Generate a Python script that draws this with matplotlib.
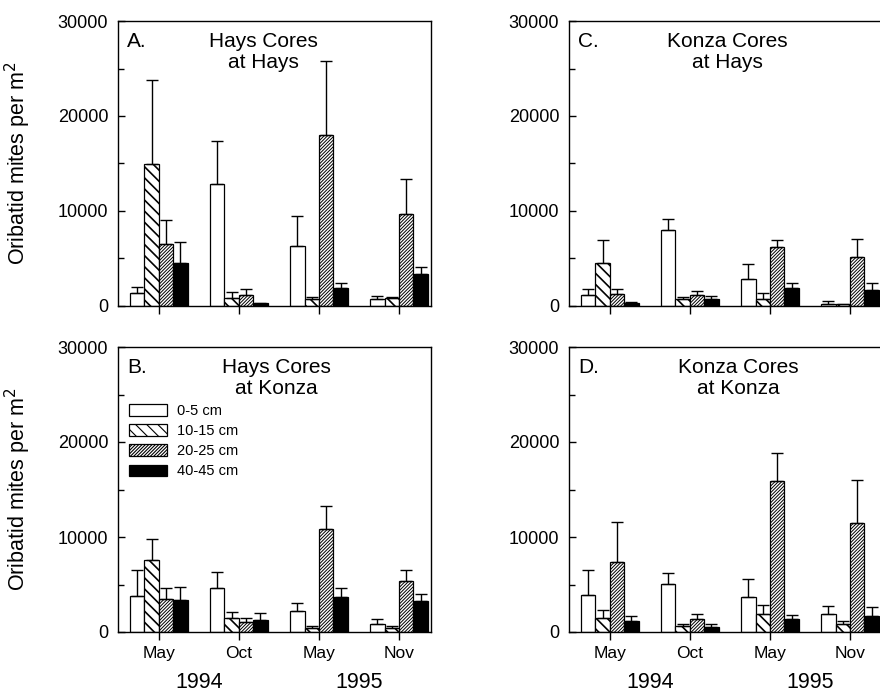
import numpy as np
import matplotlib
matplotlib.use("Agg")
import matplotlib.pyplot as plt
from matplotlib.ticker import MultipleLocator

plt.rcParams["font.family"] = ["Liberation Sans", "DejaVu Sans"]
plt.rcParams["hatch.linewidth"] = 0.8

# sampling dates and depth classes
months = ["May", "Oct", "May", "Nov"]
years = ["1994", "1995"]
depths = ["0-5 cm", "10-15 cm", "20-25 cm", "40-45 cm"]

# mean densities (rows = depth, cols = date) and upper SE, mites per m2
a_mean = [[1370, 12880, 6300, 700],
          [14930, 850, 700, 800],
          [6480, 1200, 17990, 9650],
          [4480, 350, 1940, 3350]]
a_err = [[630, 4540, 3140, 400],
         [8870, 600, 290, 150],
         [2570, 560, 7850, 3700],
         [2220, np.nan, 530, 770]]

b_mean = [[3760, 4670, 2210, 880],
          [7550, 1470, 390, 420],
          [3510, 1090, 10880, 5370],
          [3400, 1230, 3650, 3230]]
b_err = [[2810, 1610, 810, 490],
         [2280, 600, 280, 210],
         [1090, 350, 2420, 1120],
         [1370, 730, 1020, 740]]

c_mean = [[1160, 7960, 2790, 250],
          [4480, 740, 780, 180],
          [1310, 1200, 6200, 5140],
          [360, 700, 1940, 1730]]
c_err = [[680, 1200, 1580, 250],
         [2490, 250, 590, np.nan],
         [490, 420, 740, 1940],
         [40, 400, 490, 740]]

d_mean = [[3860, 5090, 3650, 1930],
          [1510, 630, 1860, 810],
          [7330, 1400, 15890, 11510],
          [1160, 560, 1330, 1680]]
d_err = [[2670, 1160, 1930, 770],
         [770, 240, 950, 380],
         [4210, 530, 2920, 4530],
         [490, 250, 490, 950]]

fills = ["white", "white", "white", "black"]
hatches = [None, "\\\\\\", "/" * 10, None]
hatch_lw = [0.8, 1.2, 0.7, 0.8]
offsets = [-0.27, -0.09, 0.09, 0.27]
width = 0.18

fig = plt.figure(figsize=(8.8, 6.93), dpi=100)

W, H = 880, 693
def add_ax(left_px, top_px):
    return fig.add_axes([left_px / W, 1 - (top_px + 285) / H, 313 / W, 285 / H])

ax_a = add_ax(118, 21)
ax_b = add_ax(118, 347)
ax_c = add_ax(569, 21)
ax_d = add_ax(569, 347)

panels = [
    (ax_a, a_mean, a_err, "A.", "Hays Cores\nat Hays", 0.465),
    (ax_b, b_mean, b_err, "B.", "Hays Cores\nat Konza", 0.506),
    (ax_c, c_mean, c_err, "C.", "Konza Cores\nat Hays", 0.506),
    (ax_d, d_mean, d_err, "D.", "Konza Cores\nat Konza", 0.542),
]

x = np.arange(len(months))
for ax, mean, err, letter, title, tx in panels:
    for i in range(len(depths)):
        e = np.array(err[i], dtype=float)
        with plt.rc_context({"hatch.linewidth": hatch_lw[i]}):
            ax.bar(x + offsets[i], mean[i], width, color=fills[i],
                   edgecolor="black", linewidth=0.9, hatch=hatches[i],
                   label=depths[i], zorder=2)
        ax.errorbar(x + offsets[i], mean[i], yerr=[np.zeros(4), e],
                    fmt="none", ecolor="black", elinewidth=1.0,
                    capsize=4, capthick=1.0, zorder=3)
    ax.set_xlim(-0.51, 3.40)
    ax.set_ylim(0, 30000)
    ax.yaxis.set_major_locator(MultipleLocator(10000))
    ax.yaxis.set_minor_locator(MultipleLocator(5000))
    ax.tick_params(axis="y", which="major", direction="in", length=5,
                   width=1, labelsize=13, pad=7)
    ax.tick_params(axis="y", which="minor", direction="in", length=4, width=1)
    ax.set_xticks(x)
    ax.tick_params(axis="x", direction="out", length=6, width=1,
                   labelsize=12.5, pad=4)
    for s in ax.spines.values():
        s.set_linewidth(1.0)
    ax.text(0.03, 0.927, letter, transform=ax.transAxes, fontsize=15,
            ha="left", va="center")
    ax.text(tx, 0.89, title, transform=ax.transAxes, fontsize=15,
            ha="center", va="center", linespacing=1.15)

for ax in (ax_a, ax_c):
    ax.set_xticklabels([])
for ax in (ax_b, ax_d):
    ax.set_xticklabels(months)

for ax in (ax_a, ax_b):
    ax.set_ylabel("Oribatid mites per m$^2$", fontsize=15.5)
    ax.yaxis.set_label_coords(-0.27, 0.5)

ax_b.legend(loc="upper left", bbox_to_anchor=(0.035, 0.80), frameon=False,
            fontsize=10.5, handlelength=2.6, handleheight=0.85,
            labelspacing=0.42, handletextpad=0.7, borderpad=0,
            borderaxespad=0)

# year labels below the month labels
for ax in (ax_b, ax_d):
    for k, yr in enumerate(years):
        xd = 2 * k + 0.5
        xf = fig.transFigure.inverted().transform(
            ax.transData.transform((xd, 0)))[0]
        fig.text(xf, 1 - 683 / H, yr, fontsize=15.5, ha="center", va="center")

fig.savefig("out.png", dpi=100)
